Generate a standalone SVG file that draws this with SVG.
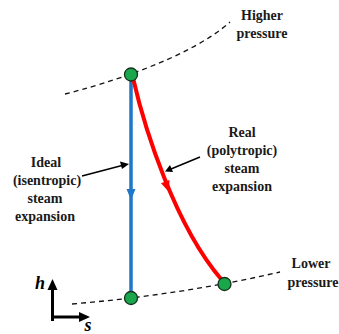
<svg xmlns="http://www.w3.org/2000/svg" width="339" height="334" viewBox="0 0 339 334">
<style>
text{font-family:"Liberation Serif","Times New Roman",Times,serif;font-weight:700}
.t{font-size:14px;fill:#1a1a1a;text-anchor:middle}
.ax{font-style:italic;font-size:18px;fill:#000;text-anchor:middle}
.dash{fill:none;stroke:#111;stroke-width:1.3;stroke-dasharray:5,4}
.pt{fill:#1aa64a;stroke:#16301c;stroke-width:1.3}
</style>
<rect width="339" height="334" fill="#fff"/>
<g id="isobars">
<path class="dash" d="M65,94 C105,84 190,58 230,22"/>
<path class="dash" d="M72,304 Q180,295 280,272"/>
</g>
<g id="connectors">
<line x1="131" y1="76" x2="131" y2="298" stroke="#1f77c8" stroke-width="3.5"/>
<polygon points="131,200 126.5,189 135.5,189" fill="#1f77c8"/>
<path d="M133,78 C145,130 175,225 221,279" fill="none" stroke="#ff0000" stroke-width="4"/>
<polygon points="0,0 -4.5,-11 4.5,-11" fill="#ff0000" transform="translate(169,192) rotate(-20)"/>
<line x1="82" y1="176" x2="122" y2="165.5" stroke="#000" stroke-width="1.5"/>
<polygon points="129,164 120,161.5 122,169" fill="#000"/>
<line x1="200" y1="157" x2="171" y2="169" stroke="#000" stroke-width="1.5"/>
<polygon points="165,171.5 170,165 173,172" fill="#000"/>
</g>
<g id="axes">
<line x1="52.5" y1="321" x2="52.5" y2="287" stroke="#000" stroke-width="3"/>
<polygon points="52.5,279 47.5,290 57.5,290" fill="#000"/>
<line x1="51" y1="317" x2="82" y2="317" stroke="#000" stroke-width="3"/>
<polygon points="90,317 79,312 79,322" fill="#000"/>
<text class="ax" x="40" y="289">h</text>
<text class="ax" x="88" y="331">s</text>
</g>
<g id="p1"><circle class="pt" cx="131" cy="74.5" r="6.5"/></g>
<g id="p2s"><circle class="pt" cx="131" cy="298" r="6.5"/></g>
<g id="p2"><circle class="pt" cx="224.5" cy="284" r="6.5"/></g>
<g id="label-higher"><text class="t" x="262" y="20">Higher</text><text class="t" x="262" y="38">pressure</text></g>
<g id="label-lower"><text class="t" x="311" y="268">Lower</text><text class="t" x="313" y="287">pressure</text></g>
<g id="label-ideal"><text class="t" x="46" y="167">Ideal</text><text class="t" x="47" y="185">(isentropic)</text><text class="t" x="45" y="203">steam</text><text class="t" x="45" y="221">expansion</text></g>
<g id="label-real"><text class="t" x="242" y="137">Real</text><text class="t" x="242" y="155">(polytropic)</text><text class="t" x="242" y="173">steam</text><text class="t" x="242" y="191">expansion</text></g>
</svg>
